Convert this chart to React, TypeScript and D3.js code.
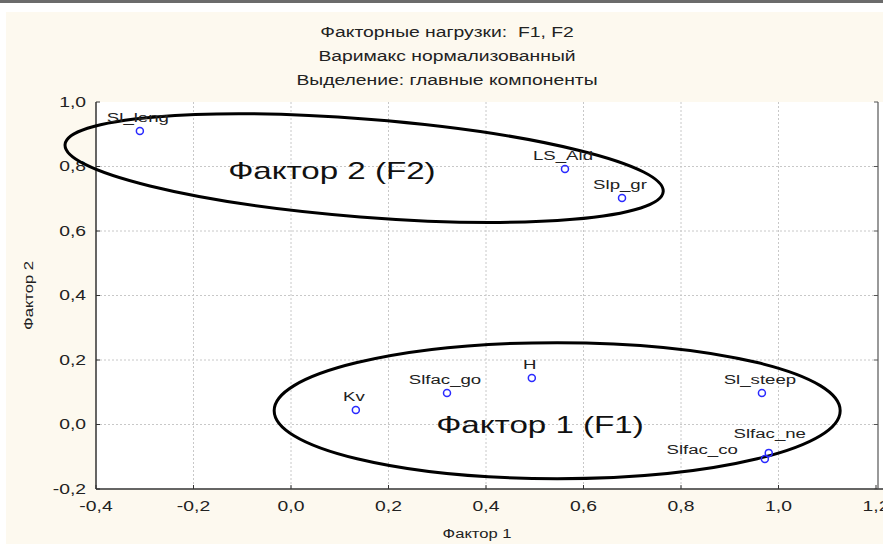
import React from 'react';
import * as d3 from 'd3';

// Factor loadings (varimax normalized)
const variables = ['Sl_leng', 'LS_Ald', 'Slp_gr', 'H', 'Slfac_go', 'Kv', 'Sl_steep', 'Slfac_ne', 'Slfac_co'];
const factor1 = [-0.31, 0.562, 0.679, 0.494, 0.32, 0.133, 0.966, 0.98, 0.972];
const factor2 = [0.91, 0.792, 0.702, 0.144, 0.098, 0.045, 0.098, -0.088, -0.107];

const xTicks = [-0.4, -0.2, 0.0, 0.2, 0.4, 0.6, 0.8, 1.0, 1.2];
const yTicks = [-0.2, 0.0, 0.2, 0.4, 0.6, 0.8, 1.0];

const titleLines = ['Факторные нагрузки:  F1, F2', 'Варимакс нормализованный', 'Выделение: главные компоненты'];

// hand-drawn groupings: centre in data units
const groupNames = ['Фактор 2 (F2)', 'Фактор 1 (F1)'];
const groupCx = [0.15, 0.546];
const groupCy = [0.795, 0.043];

const W = 883;
const H = 544;
const font = '"Liberation Sans", Arial, sans-serif';
// the original's bitmap font is noticeably wider than Arial
const STRETCH = 1.38;

const fmt = (v: number) => d3.format('.1f')(v).replace('.', ',').replace('−', '-');

type TxtProps = {
  x: number;
  y: number;
  size: number;
  anchor?: 'start' | 'middle' | 'end';
  rotate?: number;
  dy?: string;
  fill?: string;
  children: React.ReactNode;
};

const Txt = ({ x, y, size, anchor = 'start', rotate = 0, dy, fill = '#222', children }: TxtProps) => (
  <text
    transform={`translate(${x},${y}) rotate(${rotate}) scale(${STRETCH},1)`}
    textAnchor={anchor}
    fontSize={size}
    dy={dy}
    fill={fill}
    style={{ whiteSpace: 'pre' }}
  >
    {children}
  </text>
);

export default function App() {
  const x = d3.scaleLinear().domain([-0.4, 1.2]).range([96, 876]);
  const y = d3.scaleLinear().domain([-0.2, 1.0]).range([489, 102]);

  const [x0, x1] = x.range();
  const [y0, y1] = y.range();

  // ellipse shape / label placement for the two groups
  const ellipseStyle = [
    { rx: 300, ry: 49, rot: 4.5, tx: -136, ty: 11 },
    { rx: 283, ry: 68, rot: 0, tx: -121, ty: 22 },
  ];

  // label nudges where the original placed a name off-centre
  const labelPos = (v: string, px: number, py: number) => {
    if (v === 'Slfac_co') return { lx: px - 27, ly: py - 5, anchor: 'end' as const };
    if (v === 'Slfac_ne') return { lx: px + 1, ly: py - 15, anchor: 'middle' as const };
    return { lx: px - 2, ly: py - 9, anchor: 'middle' as const };
  };

  return (
    <svg width={W} height={H} style={{ position: 'absolute', left: 0, top: 0 }} fontFamily={font}>
      <rect x={0} y={0} width={W} height={H} fill="#ffffff" />
      <rect x={0} y={0} width={W} height={3} fill="#6b6b6b" />
      <rect x={6} y={12} width={W - 6} height={H - 12} fill="#fdf9ef" />

      {/* plot area */}
      <rect x={x0} y={y1} width={W - x0} height={y0 - y1} fill="#ffffff" />

      {/* grid */}
      {xTicks.slice(1, -1).map((t) => (
        <line key={'gx' + t} x1={x(t)} x2={x(t)} y1={y1} y2={y0} stroke="#c8c8c8" strokeDasharray="2,2" />
      ))}
      {yTicks.slice(1, -1).map((t) => (
        <line key={'gy' + t} x1={x0} x2={x1} y1={y(t)} y2={y(t)} stroke="#c8c8c8" strokeDasharray="2,2" />
      ))}

      {/* axes */}
      <line x1={x0} x2={x0} y1={y1} y2={y0} stroke="#333" strokeWidth={1.5} />
      <line x1={x0} x2={W} y1={y0} y2={y0} stroke="#333" strokeWidth={1.5} />
      <line x1={x1 + 2} x2={x1 + 2} y1={y1} y2={y0} stroke="#555" strokeWidth={1.2} />
      {yTicks.map((t) => (
        <g key={'ty' + t}>
          <line x1={x0} x2={x0 + 4} y1={y(t)} y2={y(t)} stroke="#333" />
          <line x1={x1 - 2} x2={x1 + 2} y1={y(t)} y2={y(t)} stroke="#555" />
          <Txt x={x0 - 10} y={y(t)} dy="0.35em" anchor="end" size={14}>
            {fmt(t)}
          </Txt>
        </g>
      ))}
      {xTicks.map((t) => (
        <g key={'tx' + t}>
          <line x1={x(t)} x2={x(t)} y1={y0} y2={y0 - 4} stroke="#333" />
          <Txt x={x(t)} y={y0 + 17} dy="0.35em" anchor="middle" size={14}>
            {fmt(t)}
          </Txt>
        </g>
      ))}

      {/* titles */}
      {titleLines.map((s, i) => (
        <Txt key={s} x={447} y={32 + i * 24} dy="0.35em" anchor="middle" size={14}>
          {s}
        </Txt>
      ))}
      <Txt x={477} y={534} dy="0.35em" anchor="middle" size={12}>
        Фактор 1
      </Txt>
      <Txt x={29} y={(y0 + y1) / 2} rotate={-90} dy="0.35em" anchor="middle" size={12}>
        Фактор 2
      </Txt>

      {/* group ellipses */}
      {groupNames.map((name, i) => {
        const e = ellipseStyle[i];
        const cx = x(groupCx[i]);
        const cy = y(groupCy[i]);
        return (
          <g key={name}>
            <ellipse cx={cx} cy={cy} rx={e.rx} ry={e.ry} transform={`rotate(${e.rot},${cx},${cy})`} fill="none" stroke="#000" strokeWidth={3} />
            <Txt x={cx + e.tx} y={cy + e.ty} size={24} fill="#111">
              {name}
            </Txt>
          </g>
        );
      })}

      {/* points */}
      {variables.map((v, i) => {
        const px = x(factor1[i]);
        const py = y(factor2[i]);
        const { lx, ly, anchor } = labelPos(v, px, py);
        return (
          <g key={v}>
            <circle cx={px} cy={py} r={3.5} fill="none" stroke="#2a2aff" strokeWidth={1.5} />
            <Txt x={lx} y={ly} anchor={anchor} size={13.5}>
              {v}
            </Txt>
          </g>
        );
      })}
    </svg>
  );
}
